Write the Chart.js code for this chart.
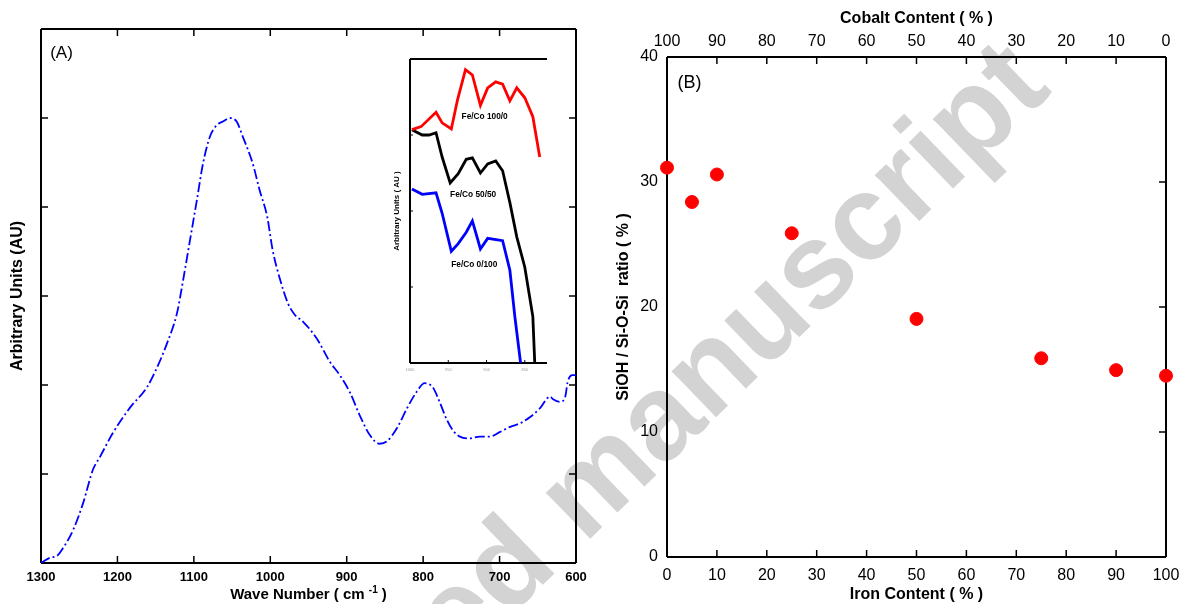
<!DOCTYPE html>
<html lang="en">
<head>
    <meta charset="UTF-8">
    <title>FTIR spectrum and SiOH / Si-O-Si ratio</title>
    <script src="https://cdn.jsdelivr.net/npm/chart.js"></script>
    <style>
        html, body {
            margin: 0;
            padding: 0;
            width: 1182px;
            height: 604px;
            overflow: hidden;
            background: #fff;
        }
        canvas {
            position: absolute;
            z-index: 2;
        }
        #chartA { left: 0; top: 0; }
        #chartB { left: 590px; top: 0; }
        #inset { left: 380px; top: 45px; }
        /* watermark sits behind the (transparent) chart canvases */
        #wm {
            position: absolute;
            left: 582px;
            top: 489px;
            transform: translate(-50%, -50%) rotate(-44deg);
            font: bold 121px "Liberation Sans", Arial, sans-serif;
            line-height: 1;
            color: rgb(211, 211, 211);
            white-space: nowrap;
            pointer-events: none;
            z-index: 1;
        }
    </style>
</head>
<body>
    <div id="wm">Accepted manuscript</div>
    <canvas id="chartA" width="600" height="604"></canvas>
    <canvas id="inset" width="175" height="330"></canvas>
    <canvas id="chartB" width="602" height="604"></canvas>

    <script>
        // Panel A: FTIR spectrum
        const waveNumber = [1300, 1288, 1279, 1271, 1258, 1245, 1232, 1223, 1206, 1184,
            1161, 1148, 1135, 1122, 1114, 1105, 1096, 1088, 1079, 1070,
            1062, 1053, 1044, 1036, 1023, 1014, 1004, 997, 987, 977,
            968, 957, 939, 922, 909, 896, 883, 870, 857, 847,
            834, 821, 808, 798, 787, 778, 769, 761, 752, 739,
            726, 713, 700, 686, 673, 660, 647, 634, 630, 621,
            614, 611, 605, 600];
        const absorbance = [0, 0.06, 0.08, 0.17, 0.37, 0.67, 1.05, 1.19, 1.46, 1.74,
            1.98, 2.20, 2.47, 2.81, 3.18, 3.63, 4.08, 4.49, 4.79, 4.92,
            4.96, 5.00, 4.96, 4.79, 4.49, 4.19, 3.89, 3.52, 3.18, 2.92,
            2.79, 2.71, 2.52, 2.26, 2.11, 1.92, 1.66, 1.44, 1.34, 1.37,
            1.52, 1.74, 1.93, 2.02, 1.97, 1.80, 1.61, 1.49, 1.42, 1.40,
            1.42, 1.42, 1.47, 1.53, 1.57, 1.64, 1.74, 1.87, 1.84, 1.81,
            1.87, 2.03, 2.11, 2.11];

        // Inset curves
        const fe100X = [0.05, 0.29, 0.68, 0.84, 1.08, 1.24, 1.45, 1.63, 1.84, 2.03, 2.24, 2.42, 2.61, 2.79, 3.00, 3.21, 3.39];
        const fe100Y = [3.07, 3.11, 3.30, 3.16, 3.08, 3.46, 3.86, 3.79, 3.39, 3.62, 3.70, 3.67, 3.45, 3.62, 3.49, 3.24, 2.71];
        const fe50X = [0.05, 0.32, 0.50, 0.68, 0.84, 1.05, 1.26, 1.47, 1.63, 1.84, 2.03, 2.24, 2.42, 2.61, 2.79, 3.00, 3.21, 3.26];
        const fe50Y = [3.07, 3.00, 3.00, 3.03, 2.71, 2.37, 2.49, 2.68, 2.70, 2.50, 2.62, 2.66, 2.53, 2.11, 1.66, 1.26, 0.61, 0];
        const fe0X = [0.05, 0.32, 0.68, 0.84, 1.08, 1.26, 1.47, 1.63, 1.84, 2.03, 2.42, 2.61, 2.74, 2.89];
        const fe0Y = [2.29, 2.22, 2.24, 1.97, 1.47, 1.57, 1.72, 1.87, 1.50, 1.64, 1.61, 1.22, 0.61, 0];
        const insetTickLabels = ['1000', '950', '900', '850'];

        // Panel B: SiOH / Si-O-Si ratio vs iron content
        const ironContent = [0, 5, 10, 25, 50, 75, 90, 100];
        const sioRatio = [31.15, 28.4, 30.6, 25.9, 19.05, 15.9, 14.95, 14.5];

        Chart.defaults.font.family = '"Liberation Sans", Arial, Helvetica, sans-serif';
        Chart.defaults.color = '#000';

        const toPoints = (xs, ys) => xs.map((x, i) => ({ x: x, y: ys[i] }));
        const plain = v => String(v);

        // box around the plot area + tick marks pointing inwards
        function makeFrame(cfg) {
            return {
                id: 'frame',
                beforeDatasetsDraw(chart) {
                    const ctx = chart.ctx;
                    const a = chart.chartArea;
                    ctx.save();
                    ctx.strokeStyle = '#000';
                    ctx.lineWidth = cfg.width;
                    ctx.beginPath();
                    if (cfg.sides.includes('top')) { ctx.moveTo(a.left, a.top); ctx.lineTo(a.right, a.top); }
                    if (cfg.sides.includes('right')) { ctx.moveTo(a.right, a.top); ctx.lineTo(a.right, a.bottom); }
                    if (cfg.sides.includes('bottom')) { ctx.moveTo(a.left, a.bottom); ctx.lineTo(a.right, a.bottom); }
                    if (cfg.sides.includes('left')) { ctx.moveTo(a.left, a.top); ctx.lineTo(a.left, a.bottom); }
                    ctx.stroke();
                    ctx.lineWidth = cfg.tickWidth;
                    const len = cfg.len;
                    cfg.ticks.forEach(t => {
                        const s = chart.scales[t.scale];
                        s.ticks.forEach(tk => {
                            if (tk.value <= s.min || tk.value >= s.max) return;
                            const p = s.getPixelForValue(tk.value);
                            ctx.beginPath();
                            t.edges.forEach(e => {
                                if (e === 'bottom') { ctx.moveTo(p, a.bottom); ctx.lineTo(p, a.bottom - len); }
                                if (e === 'top') { ctx.moveTo(p, a.top); ctx.lineTo(p, a.top + len); }
                                if (e === 'left') { ctx.moveTo(a.left, p); ctx.lineTo(a.left + len, p); }
                                if (e === 'right') { ctx.moveTo(a.right, p); ctx.lineTo(a.right - len, p); }
                            });
                            ctx.stroke();
                        });
                    });
                    ctx.restore();
                }
            };
        }

        // free text placed at data coordinates
        function makeNotes(items) {
            return {
                id: 'notes',
                afterDatasetsDraw(chart) {
                    const ctx = chart.ctx;
                    items.forEach(n => {
                        const x = chart.scales.x.getPixelForValue(n.x);
                        const y = chart.scales.y.getPixelForValue(n.y);
                        ctx.save();
                        ctx.font = n.font;
                        ctx.fillStyle = '#000';
                        ctx.textAlign = n.align;
                        ctx.textBaseline = 'middle';
                        ctx.fillText(n.text, x, y);
                        ctx.restore();
                    });
                }
            };
        }

        // x title of panel A, with the -1 raised
        const waveTitle = {
            id: 'waveTitle',
            afterDraw(chart) {
                const ctx = chart.ctx;
                const a = chart.chartArea;
                const big = 'bold 15px "Liberation Sans", Arial, sans-serif';
                const small = 'bold 10px "Liberation Sans", Arial, sans-serif';
                const parts = ['Wave Number ( cm ', '-1', ' )'];
                ctx.save();
                ctx.fillStyle = '#000';
                ctx.textBaseline = 'alphabetic';
                ctx.font = big;
                const w0 = ctx.measureText(parts[0]).width;
                const w2 = ctx.measureText(parts[2]).width;
                ctx.font = small;
                const w1 = ctx.measureText(parts[1]).width;
                let x = (a.left + a.right) / 2 - (w0 + w1 + w2) / 2;
                const y = 599;
                ctx.textAlign = 'left';
                ctx.font = big;
                ctx.fillText(parts[0], x, y);
                x += w0;
                ctx.font = small;
                ctx.fillText(parts[1], x, y - 6);
                x += w1;
                ctx.font = big;
                ctx.fillText(parts[2], x, y);
                ctx.restore();
            }
        };

        const noGrid = { display: false, drawTicks: false };

        // Panel A
        new Chart(document.getElementById('chartA'), {
            type: 'line',
            data: {
                datasets: [{
                    data: toPoints(waveNumber, absorbance),
                    borderColor: '#0000ff',
                    borderWidth: 1.8,
                    borderDash: [10, 3, 2, 3],
                    pointRadius: 0,
                    cubicInterpolationMode: 'monotone',
                    fill: false
                }]
            },
            options: {
                responsive: false,
                animation: false,
                layout: { padding: { top: 29, right: 24, left: 0, bottom: 0 } },
                plugins: { legend: { display: false }, tooltip: { enabled: false } },
                scales: {
                    x: {
                        type: 'linear', min: 600, max: 1300, reverse: true,
                        grid: noGrid, border: { display: false },
                        ticks: { stepSize: 100, padding: 7, maxRotation: 0, autoSkip: false,
                                 font: { size: 13, weight: 'bold' }, callback: plain },
                        afterFit: s => { s.height = 41; }
                    },
                    y: {
                        min: 0, max: 6,
                        grid: noGrid, border: { display: false },
                        ticks: { stepSize: 1, display: false },
                        title: { display: true, text: 'Arbitrary Units (AU)',
                                 font: { size: 16, weight: 'bold' }, padding: { top: 8, bottom: 0 } },
                        afterFit: s => { s.width = 41; }
                    }
                }
            },
            plugins: [
                makeFrame({ sides: ['top', 'right', 'bottom', 'left'], width: 2, tickWidth: 1.5, len: 7,
                            ticks: [{ scale: 'x', edges: ['top', 'bottom'] }, { scale: 'y', edges: ['left', 'right'] }] }),
                makeNotes([{ text: '(A)', x: 1288, y: 5.73, align: 'left', font: '17px "Liberation Sans", Arial, sans-serif' }]),
                waveTitle
            ]
        });

        // Inset
        new Chart(document.getElementById('inset'), {
            type: 'scatter',
            data: {
                datasets: [
                    { data: toPoints(fe100X, fe100Y), borderColor: '#ff0000' },
                    { data: toPoints(fe50X, fe50Y), borderColor: '#000000' },
                    { data: toPoints(fe0X, fe0Y), borderColor: '#0000ff' }
                ].map(d => Object.assign(d, { showLine: true, borderWidth: 2.8, pointRadius: 0, tension: 0 }))
            },
            options: {
                responsive: false,
                animation: false,
                layout: { padding: { top: 14, right: 8, left: 0, bottom: 0 } },
                plugins: { legend: { display: false }, tooltip: { enabled: false } },
                scales: {
                    x: {
                        type: 'linear', min: 0, max: 3.58,
                        grid: noGrid, border: { display: false },
                        afterBuildTicks: s => { s.ticks = s.ticks.filter(t => Number.isInteger(t.value)); },
                        ticks: { stepSize: 1, padding: 4, maxRotation: 0, autoSkip: false, color: '#999',
                                 font: { size: 4 }, callback: v => insetTickLabels[v] },
                        afterFit: s => { s.height = 12; }
                    },
                    y: {
                        min: 0, max: 4,
                        grid: noGrid, border: { display: false },
                        ticks: { stepSize: 1, display: false },
                        title: { display: true, text: 'Arbitrary Units ( AU )',
                                 font: { size: 8, weight: 'bold' }, padding: { top: 12, bottom: 0 } },
                        afterFit: s => { s.width = 30; }
                    }
                }
            },
            plugins: [
                makeFrame({ sides: ['top', 'bottom', 'left'], width: 2, tickWidth: 1, len: 3,
                            ticks: [{ scale: 'x', edges: ['bottom'] }, { scale: 'y', edges: ['left'] }] }),
                makeNotes([
                    { text: 'Fe/Co 100/0', x: 1.95, y: 3.24, align: 'center', font: 'bold 8.3px "Liberation Sans", Arial, sans-serif' },
                    { text: 'Fe/Co 50/50', x: 1.65, y: 2.21, align: 'center', font: 'bold 8.3px "Liberation Sans", Arial, sans-serif' },
                    { text: 'Fe/Co 0/100', x: 1.68, y: 1.29, align: 'center', font: 'bold 8.3px "Liberation Sans", Arial, sans-serif' }
                ])
            ]
        });

        // Panel B
        new Chart(document.getElementById('chartB'), {
            type: 'scatter',
            data: {
                datasets: [{
                    data: toPoints(ironContent, sioRatio),
                    backgroundColor: '#ff0000',
                    borderColor: '#ff0000',
                    pointRadius: 6.5,
                    clip: false
                }]
            },
            options: {
                responsive: false,
                animation: false,
                layout: { padding: { top: 0, right: 26, left: 0, bottom: 0 } },
                plugins: { legend: { display: false }, tooltip: { enabled: false } },
                scales: {
                    x: {
                        type: 'linear', position: 'bottom', min: 0, max: 100,
                        grid: noGrid, border: { display: false },
                        ticks: { stepSize: 10, padding: 9, maxRotation: 0, autoSkip: false, font: { size: 16 } },
                        title: { display: true, text: 'Iron Content ( % )',
                                 font: { size: 16, weight: 'bold' }, padding: { top: 0, bottom: 0 } },
                        afterFit: s => { s.height = 47; }
                    },
                    x2: {
                        type: 'linear', position: 'top', min: 0, max: 100, reverse: true,
                        grid: noGrid, border: { display: false },
                        ticks: { stepSize: 10, padding: 6, maxRotation: 0, autoSkip: false, font: { size: 16 } },
                        title: { display: true, text: 'Cobalt Content ( % )',
                                 font: { size: 16, weight: 'bold' }, padding: { top: 9, bottom: 0 } },
                        afterFit: s => { s.height = 57; }
                    },
                    y: {
                        min: 0, max: 40,
                        grid: noGrid, border: { display: false },
                        ticks: { stepSize: 10, padding: 9, font: { size: 16 } },
                        title: { display: true, text: 'SiOH / Si-O-Si  ratio ( % )',
                                 font: { size: 16, weight: 'bold' }, padding: { top: 24, bottom: 0 } },
                        afterFit: s => { s.width = 77; }
                    }
                }
            },
            plugins: [
                makeFrame({ sides: ['top', 'right', 'bottom', 'left'], width: 2, tickWidth: 1.5, len: 7,
                            ticks: [{ scale: 'x', edges: ['bottom'] }, { scale: 'x2', edges: ['top'] }, { scale: 'y', edges: ['right'] }] }),
                makeNotes([{ text: '(B)', x: 2.1, y: 37.9, align: 'left', font: '18px "Liberation Sans", Arial, sans-serif' }])
            ]
        });
    </script>
</body>
</html>
